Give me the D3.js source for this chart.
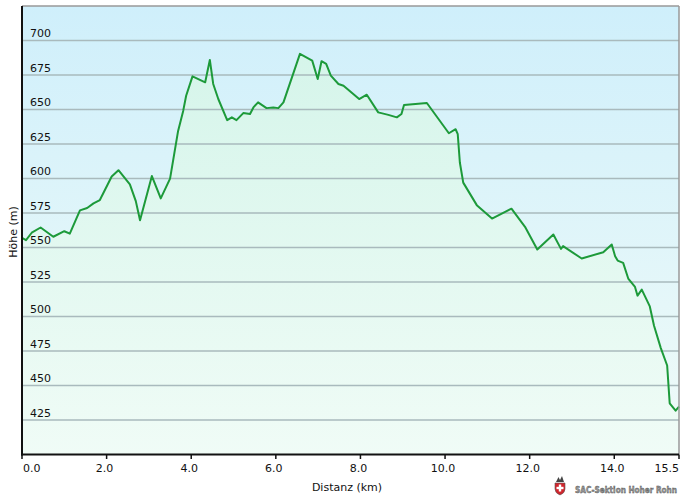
<!DOCTYPE html>
<html>
<head>
<meta charset="utf-8">
<script src="https://cdn.jsdelivr.net/npm/d3@7/dist/d3.min.js"></script>
<style>
  html, body { margin: 0; padding: 0; background: #ffffff; }
  svg { display: block; font-family: "DejaVu Sans", Verdana, sans-serif; }
</style>
</head>
<body>
<svg id="chart" width="685" height="497"></svg>
<script>
// ---- data ----
const distKm = [0.0, 0.095, 0.23, 0.44, 0.74, 1.0, 1.13, 1.37, 1.54, 1.69, 1.84, 2.12, 2.28, 2.55, 2.69, 2.79,
  3.07, 3.28, 3.5, 3.69, 3.81, 3.88, 4.03, 4.33, 4.44, 4.52, 4.64, 4.85, 4.96, 5.07, 5.23, 5.39, 5.47, 5.58,
  5.78, 5.94, 6.06, 6.18, 6.57, 6.86, 6.99, 7.08, 7.19, 7.3, 7.48, 7.6, 7.97, 8.15, 8.42, 8.66, 8.86, 8.97,
  9.03, 9.57, 10.09, 10.25, 10.3, 10.35, 10.43, 10.75, 11.11, 11.57, 11.89, 12.18, 12.56, 12.74, 12.79, 13.23,
  13.74, 13.94, 14.02, 14.08, 14.21, 14.33, 14.49, 14.55, 14.65, 14.84, 14.94, 15.1, 15.25, 15.31, 15.45, 15.53];
const elevM = [557, 555.3, 560.7, 564.5, 557.8, 561.8, 560, 576.9, 578.6, 582, 584.4, 601.4, 606, 595.8, 583.6, 569.8,
  601.8, 585.6, 599.9, 634.5, 649, 660, 674, 669.7, 685.9, 668.5, 657.6, 642.3, 644.3, 642.3, 647.4, 646.7, 651.5, 655.2,
  651, 651.5, 651, 655.2, 690.3, 685.4, 672.1, 685, 683, 674.5, 668.5, 667.2, 657.6, 660.7, 647.9, 646.1, 644.3, 646.7,
  653.2, 654.7, 632.8, 635.7, 632.1, 611.6, 597, 580.7, 571, 578.1, 565, 548.5, 559.4, 549, 551, 542,
  546.6, 552.2, 543.7, 540.5, 538.9, 527.5, 521.4, 515.1, 519.5, 507.3, 493.3, 477.1, 464.5, 437.1, 431.8, 434.7];
const yTicks = [425, 450, 475, 500, 525, 550, 575, 600, 625, 650, 675, 700];
const xTicks = [0, 2, 4, 6, 8, 10, 12, 14, 15.53];
const xTickLabels = ["0.0", "2.0", "4.0", "6.0", "8.0", "10.0", "12.0", "14.0", "15.5"];
const xTitle = "Distanz  (km)";
const yTitle = "Höhe (m)";
const logoText = "SAC-Sektion Hoher Rohn";

const points = distKm.map((d, i) => ({ d: d, e: elevM[i] }));

// ---- layout ----
const L = 22, R = 679, T = 6, B = 454.5;
const svg = d3.select("#chart");
const x = d3.scaleLinear().domain([0, 15.53]).range([L, R]);
const y = d3.scaleLinear().domain([400, 725]).range([B, T]);

const defs = svg.append("defs");
const bg = defs.append("linearGradient").attr("id", "bg").attr("x1", 0).attr("y1", 0).attr("x2", 0).attr("y2", 1);
bg.append("stop").attr("offset", "0%").attr("stop-color", "#cfeffb");
bg.append("stop").attr("offset", "100%").attr("stop-color", "#f0fbf8");
const ag = defs.append("linearGradient").attr("id", "ag").attr("gradientUnits", "userSpaceOnUse")
  .attr("x1", 0).attr("y1", T).attr("x2", 0).attr("y2", B);
ag.append("stop").attr("offset", "0%").attr("stop-color", "#d3f5e6");
ag.append("stop").attr("offset", "100%").attr("stop-color", "#f0fcf6");

// plot background
svg.append("rect").attr("x", L).attr("y", T).attr("width", R - L).attr("height", B - T).attr("fill", "url(#bg)");

// area under the profile
svg.append("path").datum(points)
  .attr("d", d3.area().x(p => x(p.d)).y0(y(400)).y1(p => y(p.e)))
  .attr("fill", "url(#ag)").attr("opacity", 0.85);

// gridlines
svg.append("g").selectAll("line").data(yTicks).join("line")
  .attr("x1", L).attr("x2", R).attr("y1", d => y(d)).attr("y2", d => y(d))
  .attr("stroke", "#a9babd").attr("stroke-width", 1.5);

// y tick labels (inside plot, above gridlines)
svg.append("g").selectAll("text").data(yTicks).join("text")
  .attr("x", 30).attr("y", d => y(d) - 3.5)
  .attr("font-size", 11).attr("fill", "#111").text(d => d);

// profile line
svg.append("path").datum(points)
  .attr("d", d3.line().x(p => x(p.d)).y(p => y(p.e)))
  .attr("fill", "none").attr("stroke", "#1d9a3a").attr("stroke-width", 2).attr("stroke-linejoin", "round");

// border top/right
svg.append("line").attr("x1", L).attr("x2", R).attr("y1", T).attr("y2", T).attr("stroke", "#999").attr("stroke-width", 1.5);
svg.append("line").attr("x1", R).attr("x2", R).attr("y1", T).attr("y2", B).attr("stroke", "#999").attr("stroke-width", 1.5);

// axes lines
svg.append("line").attr("x1", L).attr("x2", L).attr("y1", T).attr("y2", B + 1).attr("stroke", "#111").attr("stroke-width", 2);
svg.append("line").attr("x1", L - 1).attr("x2", R).attr("y1", B).attr("y2", B).attr("stroke", "#111").attr("stroke-width", 2);

// x ticks
const xt = svg.append("g");
xt.selectAll("line").data(xTicks).join("line")
  .attr("x1", d => x(d)).attr("x2", d => x(d)).attr("y1", B).attr("y2", B + 4.5)
  .attr("stroke", "#111").attr("stroke-width", 1.5);
xt.selectAll("text").data(xTicks).join("text")
  .attr("x", (d, i) => i === 0 ? x(d) + 1 : (i === xTicks.length - 1 ? x(d) : x(d) - 2))
  .attr("y", 472)
  .attr("text-anchor", (d, i) => i === 0 ? "start" : (i === xTicks.length - 1 ? "end" : "middle"))
  .attr("font-size", 11).attr("fill", "#111")
  .text((d, i) => xTickLabels[i]);

// axis titles
svg.append("text").attr("x", 347).attr("y", 491).attr("text-anchor", "middle")
  .attr("font-size", 11).attr("fill", "#111").text(xTitle);
svg.append("text").attr("transform", "translate(17,232) rotate(-90)").attr("text-anchor", "middle")
  .attr("font-size", 11).attr("fill", "#111").text(yTitle);

// logo
const lg = svg.append("g").attr("transform", "translate(560,488)");
lg.append("path").attr("d", "M-5,-5 L5,-5 L5,1 Q5,5 0,7 Q-5,5 -5,1 Z").attr("fill", "#d3242b").attr("stroke", "#555").attr("stroke-width", 0.6);
lg.append("rect").attr("x", -1.2).attr("y", -3.5).attr("width", 2.4).attr("height", 7).attr("fill", "#fff");
lg.append("rect").attr("x", -3.5).attr("y", -1.2).attr("width", 7).attr("height", 2.4).attr("fill", "#fff");
lg.append("path").attr("d", "M-4,-6 L-1.5,-11 L0,-8 L2,-12 L4,-6 Z").attr("fill", "#444");
svg.append("text").attr("x", 575).attr("y", 493).attr("font-size", 8).attr("font-weight", "bold")
  .attr("fill", "#9a9a9a").attr("stroke", "#444").attr("stroke-width", 0.35)
  .attr("textLength", 102).attr("lengthAdjust", "spacingAndGlyphs").text(logoText);
</script>
</body>
</html>
